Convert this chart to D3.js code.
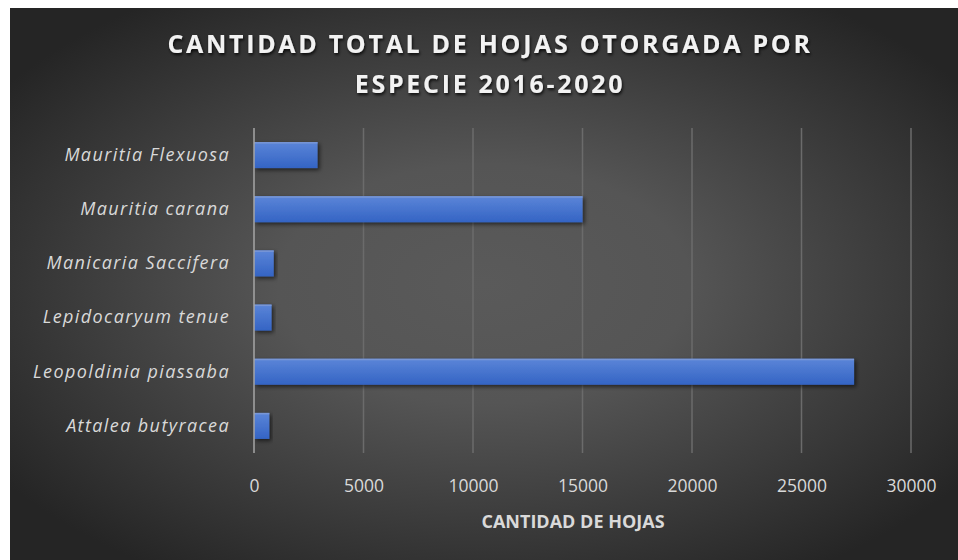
<!DOCTYPE html>
<html><head><meta charset="utf-8">
<script src="https://cdn.jsdelivr.net/npm/d3@7"></script>
<style>
html,body{margin:0;padding:0;background:#fff;}
svg{display:block;}
</style></head>
<body>
<script>
const categories = ["Mauritia Flexuosa","Mauritia carana","Manicaria Saccifera","Lepidocaryum tenue","Leopoldinia piassaba","Attalea butyracea"];
const values = [2900, 15000, 900, 800, 27400, 700];
const xTicks = [0,5000,10000,15000,20000,25000,30000];
const titleLines = ["CANTIDAD TOTAL DE HOJAS OTORGADA POR","ESPECIE 2016-2020"];
const xTitle = "CANTIDAD DE HOJAS";

const W = 958, H = 560;
const svg = d3.select("body").append("svg").attr("width", W).attr("height", H);
const defs = svg.append("defs");

const bg = defs.append("radialGradient").attr("id","bg").attr("cx","50%").attr("cy","50%").attr("r","62%");
bg.append("stop").attr("offset","0%").attr("stop-color","#5a5a5a");
bg.append("stop").attr("offset","35%").attr("stop-color","#555555");
bg.append("stop").attr("offset","100%").attr("stop-color","#252525");

const bar = defs.append("linearGradient").attr("id","bar").attr("x1",0).attr("y1",0).attr("x2",0).attr("y2",1);
bar.append("stop").attr("offset","0%").attr("stop-color","#5b85d8");
bar.append("stop").attr("offset","100%").attr("stop-color","#3464c4");

const sh = defs.append("filter").attr("id","sh").attr("x","-20%").attr("y","-40%").attr("width","140%").attr("height","180%");
sh.append("feDropShadow").attr("dx",2).attr("dy",2).attr("stdDeviation",2).attr("flood-color","#000").attr("flood-opacity",0.6);
const tsh = defs.append("filter").attr("id","tsh").attr("x","-10%").attr("y","-30%").attr("width","120%").attr("height","160%");
tsh.append("feDropShadow").attr("dx",1).attr("dy",2).attr("stdDeviation",1.5).attr("flood-color","#000").attr("flood-opacity",0.8);

svg.append("rect").attr("x",10).attr("y",8).attr("width",W-10).attr("height",H-8).attr("fill","url(#bg)");

const x = d3.scaleLinear().domain([0,30000]).range([254,911]);
const y = d3.scaleBand().domain(categories).range([128,453]).paddingInner(0.52).paddingOuter(0.26);

// gridlines
svg.append("g").selectAll("line").data(xTicks.slice(1)).join("line")
  .attr("x1",d=>x(d)).attr("x2",d=>x(d)).attr("y1",128).attr("y2",453)
  .attr("stroke","#6b6b6b").attr("stroke-width",1.5);

// bars
const bars = svg.append("g").selectAll("g").data(values).join("g").attr("filter","url(#sh)");
bars.append("rect")
  .attr("x",x(0)).attr("y",(d,i)=>y(categories[i])).attr("height",y.bandwidth())
  .attr("width",d=>x(d)-x(0)).attr("fill","url(#bar)");
bars.append("rect")
  .attr("x",x(0)).attr("y",(d,i)=>y(categories[i])).attr("height",1.5)
  .attr("width",d=>x(d)-x(0)).attr("fill","#7896d6");

// axis line at 0
svg.append("line").attr("x1",x(0)).attr("x2",x(0)).attr("y1",128).attr("y2",453)
  .attr("stroke","#a6a6a6").attr("stroke-width",1.5);

// x axis
const xAxis = svg.append("g").attr("transform","translate(0,477)")
  .call(d3.axisBottom(x).tickValues(xTicks).tickSize(0).tickFormat(d3.format("d")));
xAxis.select(".domain").remove();
xAxis.selectAll("text").attr("fill","#d9d9d9").attr("font-family","Open Sans").attr("font-size",17.5).attr("dy","0.71em");

// y axis
const yAxis = svg.append("g").attr("transform","translate(230,0)")
  .call(d3.axisLeft(y).tickSize(0).tickPadding(0));
yAxis.select(".domain").remove();
yAxis.selectAll("text").attr("fill","#d9d9d9").attr("font-family","Open Sans").attr("font-style","italic")
  .attr("font-size",18).attr("letter-spacing",1.4);

// x title
svg.append("text").attr("x",573).attr("y",528).attr("text-anchor","middle")
  .attr("font-family","Open Sans").attr("font-weight","bold").attr("font-size",18)
  .attr("fill","#d9d9d9").attr("letter-spacing",0).text(xTitle);

// title
svg.append("g").attr("filter","url(#tsh)").selectAll("text").data(titleLines).join("text")
  .attr("x",490).attr("y",(d,i)=>53+i*40).attr("text-anchor","middle")
  .attr("font-family","Open Sans").attr("font-weight","bold").attr("font-size",25)
  .attr("letter-spacing",2.7).attr("fill","#f2f2f2").text(d=>d);
</script>
</body></html>
